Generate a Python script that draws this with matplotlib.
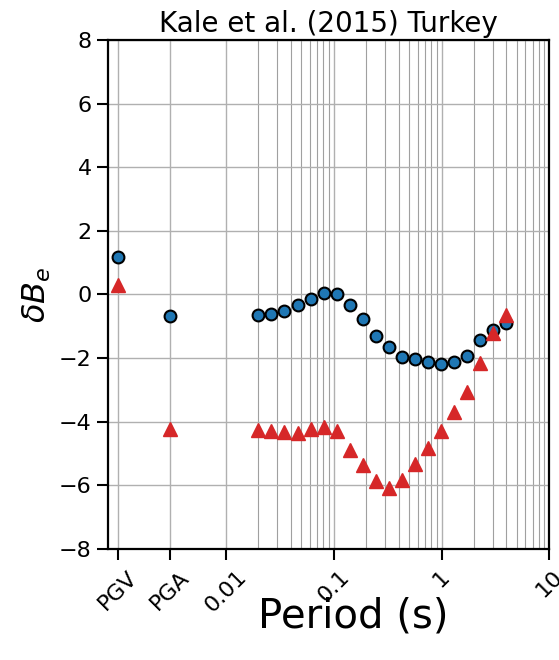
import numpy as np
import matplotlib
matplotlib.use('Agg')
import matplotlib.pyplot as plt
from matplotlib.ticker import FixedLocator, NullFormatter

# x position used for PGV / PGA on the log axis
x_pgv = 0.001
x_pga = 0.003

periods = [0.02, 0.0264, 0.0349, 0.0462, 0.0610, 0.0806, 0.1066, 0.1409, 0.1861, 0.2460,
           0.3251, 0.4297, 0.5679, 0.7505, 0.9918, 1.3108, 1.7324, 2.2895, 3.0258, 4.0]

# between-event terms, model 1 (circles) and model 2 (triangles)
dbe_circ = [-0.65, -0.61, -0.51, -0.33, -0.13, 0.06, 0.01, -0.34, -0.77, -1.31,
            -1.66, -1.96, -2.04, -2.11, -2.19, -2.12, -1.92, -1.44, -1.13, -0.91]
dbe_circ_pgv = 1.17
dbe_circ_pga = -0.68

dbe_tri = [-4.27, -4.30, -4.32, -4.34, -4.23, -4.17, -4.29, -4.88, -5.36, -5.87,
           -6.07, -5.82, -5.33, -4.82, -4.30, -3.69, -3.05, -2.14, -1.21, -0.66]
dbe_tri_pgv = 0.31
dbe_tri_pga = -4.23

xtick_vals = [x_pgv, x_pga, 0.01, 0.1, 1, 10]
xtick_labels = ['PGV', 'PGA', '0.01', '0.1', '1', '10']

fig = plt.figure(figsize=(5.59, 6.6), dpi=100)
ax = fig.add_axes([0.1927, 0.1682, 0.79, 0.7712])

ax.plot([x_pgv, x_pga] + periods, [dbe_circ_pgv, dbe_circ_pga] + dbe_circ,
        'o', color='#1f77b4', mec='black', mew=1.5, ms=8.5, ls='none', zorder=3)
ax.plot([x_pgv, x_pga] + periods, [dbe_tri_pgv, dbe_tri_pga] + dbe_tri,
        '^', color='#d62728', ms=10, ls='none', zorder=4)

ax.set_xscale('log')
ax.set_xlim(0.0008, 10)
ax.set_ylim(-8, 8)
ax.set_yticks(np.arange(-8, 9, 2))
ax.set_xticks(xtick_vals)
ax.set_xticklabels(xtick_labels, rotation=45)
minors = [m * d for d in [0.01, 0.1, 1] for m in range(2, 10)]
ax.xaxis.set_minor_locator(FixedLocator(minors))
ax.xaxis.set_minor_formatter(NullFormatter())

ax.grid(True, which='major', color='#b0b0b0', lw=1.0)
ax.grid(True, which='minor', axis='x', color='#a0a0a0', lw=0.8)
ax.set_axisbelow(True)

ax.tick_params(which='major', labelsize=16, length=8, width=1.5)
ax.tick_params(axis='x', which='major', pad=5)
ax.tick_params(which='minor', length=0)
for s in ax.spines.values():
    s.set_linewidth(1.6)

ax.set_title('Kale et al. (2015) Turkey', fontsize=20)
ax.set_xlabel('Period (s)', fontsize=29)
ax.xaxis.set_label_coords(0.557, -0.093)
ax.set_ylabel(r'$\delta B_e$', fontsize=23)

fig.savefig('out.png', dpi=100)
